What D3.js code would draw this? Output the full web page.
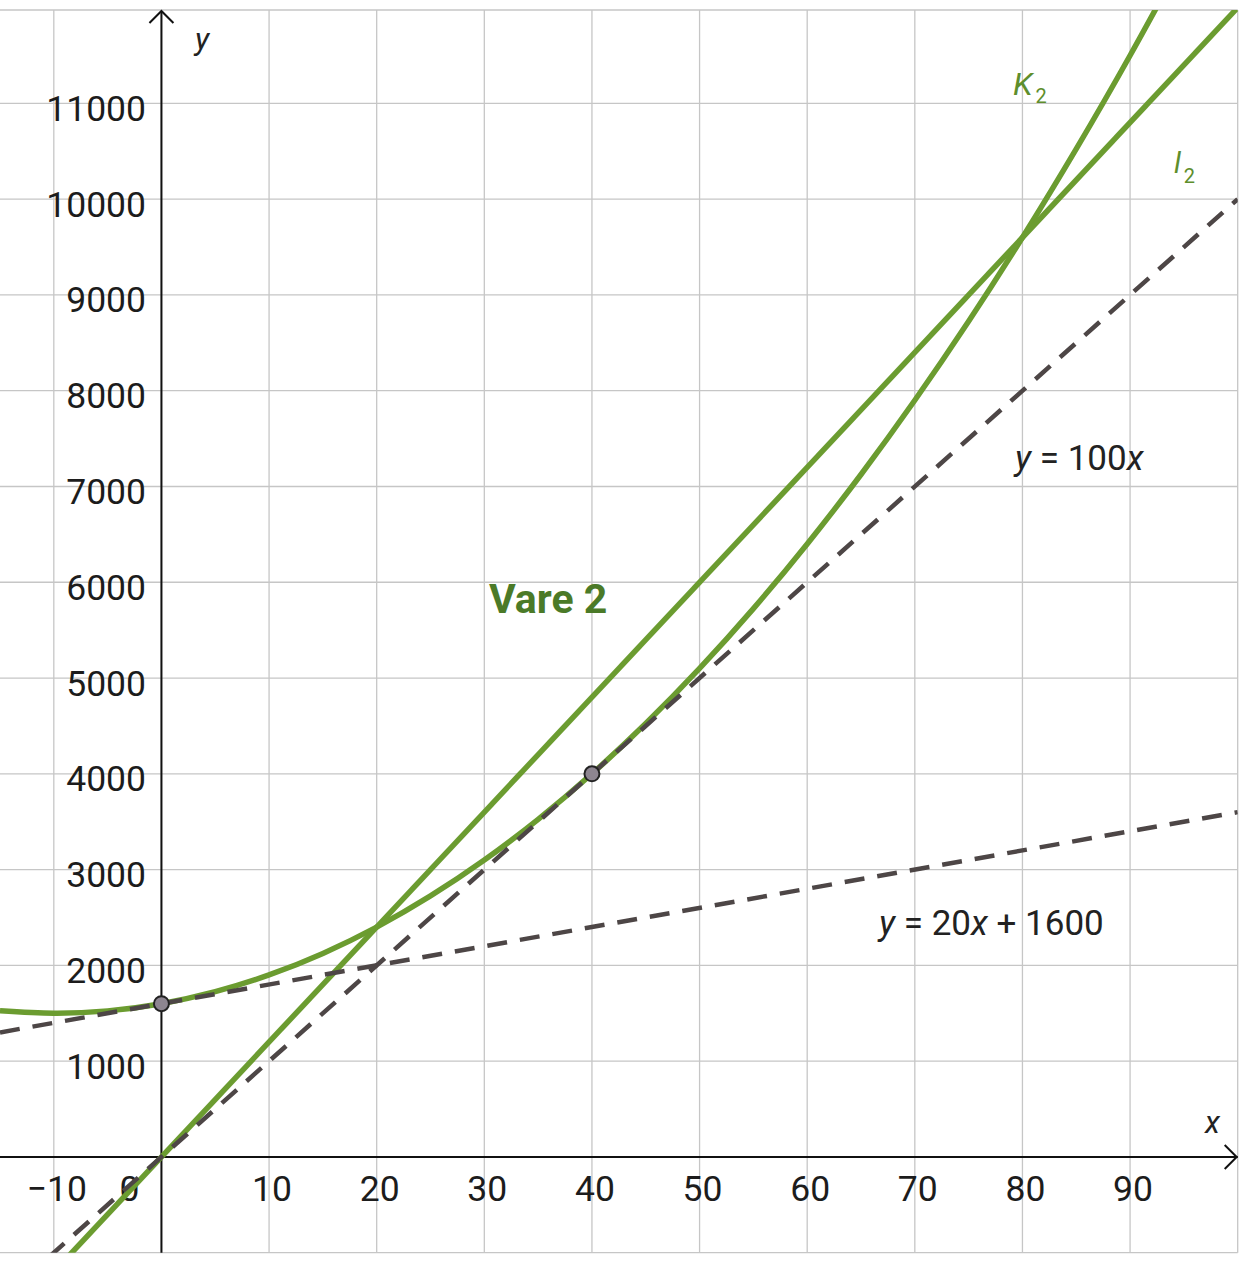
<!DOCTYPE html>
<html>
<head>
<meta charset="utf-8">
<script src="https://cdn.jsdelivr.net/npm/d3@7"></script>
<style>
  body { margin: 0; background: #fff; }
  text { font-family: Roboto, "Noto Sans", sans-serif; }
</style>
</head>
<body>
<div class="chart"></div>
<script>
var svgWidth = 1247;
var svgHeight = 1269;

// tick values
var xTicks = [-10, 0, 10, 20, 30, 40, 50, 60, 70, 80, 90];
var yTicks = [1000, 2000, 3000, 4000, 5000, 6000, 7000, 8000, 9000, 10000, 11000];
var xGrid = [-10, 0, 10, 20, 30, 40, 50, 60, 70, 80, 90, 100];
var yGrid = [-1000, 0, 1000, 2000, 3000, 4000, 5000, 6000, 7000, 8000, 9000, 10000, 11000];

// K2 curve
var kX = [-15, -10, -5, 0, 5, 10, 15, 20, 25, 30, 35, 40, 45, 50, 55, 60, 65, 70, 75, 80, 85, 90, 95];
var kY = [1525, 1500, 1525, 1600, 1725, 1900, 2125, 2400, 2725, 3100, 3525, 4000, 4525, 5100, 5725, 6400, 7125, 7900, 8725, 9600, 10525, 11500, 12525];

// straight lines (end points)
var l2X = [-15, 100];
var l2Y = [-1800, 12000];
var line100X = [-15, 100];
var line100Y = [-1500, 10000];
var line20X = [-15, 100];
var line20Y = [1300, 3600];

// marked points
var pointX = [0, 40];
var pointY = [1600, 4000];

var green = "#6b9c30";
var dark = "#4d4646";

var svg = d3.select(".chart")
  .append("svg")
  .attr("width", svgWidth)
  .attr("height", svgHeight);

var x = d3.scaleLinear().domain([-15, 100]).range([0, 1237.7]);
var y = d3.scaleLinear().domain([-1000, 11975]).range([1252.7, 10]);

svg.append("clipPath").attr("id", "plot")
  .append("rect")
  .attr("x", x(-15)).attr("y", y(11975))
  .attr("width", x(100) - x(-15)).attr("height", y(-1000) - y(11975));

//grid
var grid = svg.append("g").attr("stroke", "#c6c6c6").attr("stroke-width", 1.3);
grid.selectAll(".gx").data(xGrid).enter().append("line")
  .attr("x1", d => x(d)).attr("x2", d => x(d))
  .attr("y1", y(11975)).attr("y2", y(-1000));
grid.selectAll(".gy").data(yGrid).enter().append("line")
  .attr("x1", x(-15)).attr("x2", x(100))
  .attr("y1", d => y(d)).attr("y2", d => y(d));
grid.append("line")
  .attr("x1", x(-15)).attr("x2", x(100))
  .attr("y1", y(11975)).attr("y2", y(11975));

//axes
var axes = svg.append("g").attr("stroke", "#111").attr("stroke-width", 2).attr("fill", "none");
axes.append("line").attr("x1", x(0)).attr("x2", x(0)).attr("y1", y(-1000)).attr("y2", y(11975) + 1);
axes.append("line").attr("x1", x(-15)).attr("x2", x(100)).attr("y1", y(0)).attr("y2", y(0));
axes.append("path")
  .attr("d", `M${x(0) - 12},${y(11975) + 13} L${x(0)},${y(11975) + 1} L${x(0) + 12},${y(11975) + 13}`);
axes.append("path")
  .attr("d", `M${x(100) - 13},${y(0) - 12} L${x(100) - 1},${y(0)} L${x(100) - 13},${y(0) + 12}`);

//tick labels
svg.selectAll(".ylab").data(yTicks).enter().append("text")
  .attr("x", 146).attr("y", d => y(d) + 17.5)
  .attr("text-anchor", "end")
  .attr("font-size", 35.5).attr("fill", "#1c1c1c")
  .text(d => d);

svg.selectAll(".xlab").data(xTicks).enter().append("text")
  .attr("x", d => d === 0 ? x(0) - 32 : x(d) + 3)
  .attr("y", 1201)
  .attr("text-anchor", "middle")
  .attr("font-size", 35.5).attr("fill", "#1c1c1c")
  .text(d => d < 0 ? "\u2212" + Math.abs(d) : d);

svg.append("text").attr("x", 195).attr("y", 50)
  .attr("font-size", 31).attr("font-style", "italic").attr("fill", "#222").text("y");
svg.append("text").attr("x", 1205).attr("y", 1133)
  .attr("font-size", 31).attr("font-style", "italic").attr("fill", "#222").text("x");

//curves
var plot = svg.append("g").attr("clip-path", "url(#plot)");
var line = d3.line().x(d => x(d[0])).y(d => y(d[1]));

plot.append("path")
  .attr("d", line.curve(d3.curveNatural)(kX.map((v, i) => [v, kY[i]])))
  .attr("fill", "none").attr("stroke", green).attr("stroke-width", 5.5);
line.curve(d3.curveLinear);
plot.append("path")
  .attr("d", line(l2X.map((v, i) => [v, l2Y[i]])))
  .attr("fill", "none").attr("stroke", green).attr("stroke-width", 5.5);

plot.append("path")
  .attr("d", line(line100X.map((v, i) => [v, line100Y[i]])))
  .attr("fill", "none").attr("stroke", dark).attr("stroke-width", 4.5)
  .attr("stroke-dasharray", "20,13");
plot.append("path")
  .attr("d", line(line20X.map((v, i) => [v, line20Y[i]])))
  .attr("fill", "none").attr("stroke", dark).attr("stroke-width", 4.5)
  .attr("stroke-dasharray", "20,13");

//points
svg.selectAll(".pt").data(pointX).enter().append("circle")
  .attr("cx", d => x(d))
  .attr("cy", (d, i) => y(pointY[i]))
  .attr("r", 7.5)
  .attr("fill", "#8d8590")
  .attr("stroke", "#222")
  .attr("stroke-width", 2);

//labels
var k2 = svg.append("text").attr("x", 1013).attr("y", 95).attr("fill", "#5e8e2c");
k2.append("tspan").attr("font-size", 32).attr("font-style", "italic").text("K");
k2.append("tspan").attr("font-size", 20).attr("dx", 3).attr("dy", 8).text("2");

var l2 = svg.append("text").attr("x", 1174).attr("y", 173).attr("fill", "#5e8e2c");
l2.append("tspan").attr("font-size", 29).attr("font-style", "italic").text("l");
l2.append("tspan").attr("font-size", 20).attr("dx", 3).attr("dy", 10).text("2");

var t100 = svg.append("text").attr("x", 1015).attr("y", 470).attr("font-size", 35).attr("fill", "#222");
t100.append("tspan").attr("font-style", "italic").text("y");
t100.append("tspan").text(" = 100");
t100.append("tspan").attr("font-style", "italic").text("x");

var t20 = svg.append("text").attr("x", 879).attr("y", 935).attr("font-size", 35).attr("fill", "#222");
t20.append("tspan").attr("font-style", "italic").text("y");
t20.append("tspan").text(" = 20");
t20.append("tspan").attr("font-style", "italic").text("x");
t20.append("tspan").text(" + 1600");

svg.append("text").attr("x", 489).attr("y", 613)
  .attr("font-size", 41).attr("font-weight", "bold").attr("fill", "#4b7a28")
  .text("Vare 2");
</script>
</body>
</html>
